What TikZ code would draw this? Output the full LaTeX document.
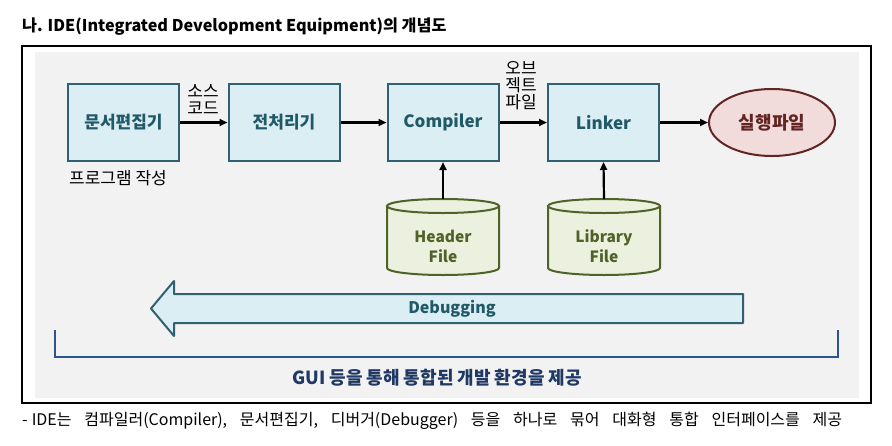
\documentclass[tikz,border=0pt]{standalone}
\usepackage{fontspec}
\setmainfont{Noto Sans CJK KR}
\usetikzlibrary{arrows.meta,shapes.geometric}
\definecolor{bg}{HTML}{F2F2F2}
\definecolor{boxfill}{HTML}{DBEEF4}
\definecolor{boxline}{HTML}{2F6170}
\definecolor{boxtext}{HTML}{215968}
\definecolor{ellfill}{HTML}{F2DCDB}
\definecolor{ellline}{HTML}{632523}
\definecolor{cylfill}{HTML}{EBF1DE}
\definecolor{cylline}{HTML}{4F6228}
\definecolor{brk}{HTML}{2A5590}
\definecolor{guitext}{HTML}{1F3864}
\tikzset{
  procbox/.style={draw=boxline, line width=2pt, fill=boxfill, minimum width=111pt, minimum height=77pt, inner sep=0pt, text=boxtext, font=\fontsize{17}{19}\selectfont\bfseries},
  conn/.style={line width=2.2pt, -{Triangle[length=8pt,width=7pt]}},
  lbl/.style={font=\fontsize{17}{18}\selectfont, align=center, inner sep=0pt},
  cyltext/.style={text=cylline, font=\fontsize{15.5}{20}\selectfont\bfseries, align=center, inner sep=0pt},
}
\begin{document}
\begin{tikzpicture}[x=1pt,y=-1pt]
\useasboundingbox (0,0) rectangle (892,445);
% title
\node[anchor=west, inner sep=0pt, font=\fontsize{16.2}{18}\selectfont\bfseries] (title) at (22,27) {나. IDE(Integrated Development Equipment)의 개념도};
% frame
\draw[line width=1.2pt] (22,46) rectangle (871,403);
\fill[bg] (35,52) rectangle (859,398);
% boxes
\node[procbox] (ed) at (123.5,122.5) {문서편집기};
\node[procbox] (pre) at (284,122.5) {전처리기};
\node[procbox] (comp) at (443,122.5) {Compiler};
\node[procbox] (link) at (603.5,122.5) {Linker};
\node[draw=ellline, line width=2pt, fill=ellfill, ellipse, minimum width=126pt, minimum height=67pt, inner sep=0pt, text=ellline, font=\fontsize{18}{20}\selectfont\bfseries] (exe) at (772,122.5) {실행파일};
% connectors
\draw[conn] (ed.east) -- (pre.west);
\draw[conn] (pre.east) -- (comp.west);
\draw[conn] (comp.east) -- (link.west);
\draw[conn] (link.east) -- (exe.west);
% labels
\node[lbl] (src) at (203,99) {소스\\[-1pt]코드};
\node[lbl] (obj) at (521,86) {오브\\[-1pt]젝트\\[-1pt]파일};
\node[lbl, anchor=west] (prog) at (69,178) {프로그램 작성};
% cylinders
\foreach \cx/\nm/\txt in {443/hdr/{Header\\File}, 604/lib/{Library\\File}}{
  \fill[cylfill] (\cx-56,206) -- (\cx-56,268) arc[start angle=180,end angle=360,x radius=56,y radius=-7] -- (\cx+56,206) -- cycle;
  \draw[cylline, line width=2pt] (\cx-56,206) -- (\cx-56,268) arc[start angle=180,end angle=360,x radius=56,y radius=-7] -- (\cx+56,206);
  \draw[cylline, line width=2pt, fill=cylfill] (\cx,206) ellipse[x radius=56, y radius=7];
  \coordinate (\nm top) at (\cx,199);
  \node[cyltext] (\nm) at (\cx,246) {\txt};
}
\draw[conn] (hdrtop) -- (comp.south);
\draw[conn] (libtop) -- (link.south);
% debugging arrow
\draw[boxline, line width=2pt, fill=boxfill, line join=round] (743,294) -- (174,294) -- (174,281) -- (151,308.5) -- (174,336) -- (174,323) -- (743,323) -- cycle;
\node[text=boxtext, font=\fontsize{16}{18}\selectfont\bfseries, inner sep=0pt] (dbg) at (452,308.5) {Debugging};
% bracket
\draw[brk, line width=2pt] (55,330) -- (55,357) -- (838,357) -- (838,330);
\node[text=guitext, font=\fontsize{18}{20}\selectfont\bfseries, inner sep=0pt] (gui) at (437,378) {GUI 등을 통해 통합된 개발 환경을 제공};
% bottom note
\node[anchor=west, inner sep=0pt, font=\fontsize{16}{18}\selectfont] (note) at (22,421) {-\hspace{4pt}IDE는\spaceskip=12.8pt{} 컴파일러(Compiler), 문서편집기, 디버거(Debugger) 등을 하나로 묶어 대화형 통합 인터페이스를 제공};
\end{tikzpicture}
\end{document}
